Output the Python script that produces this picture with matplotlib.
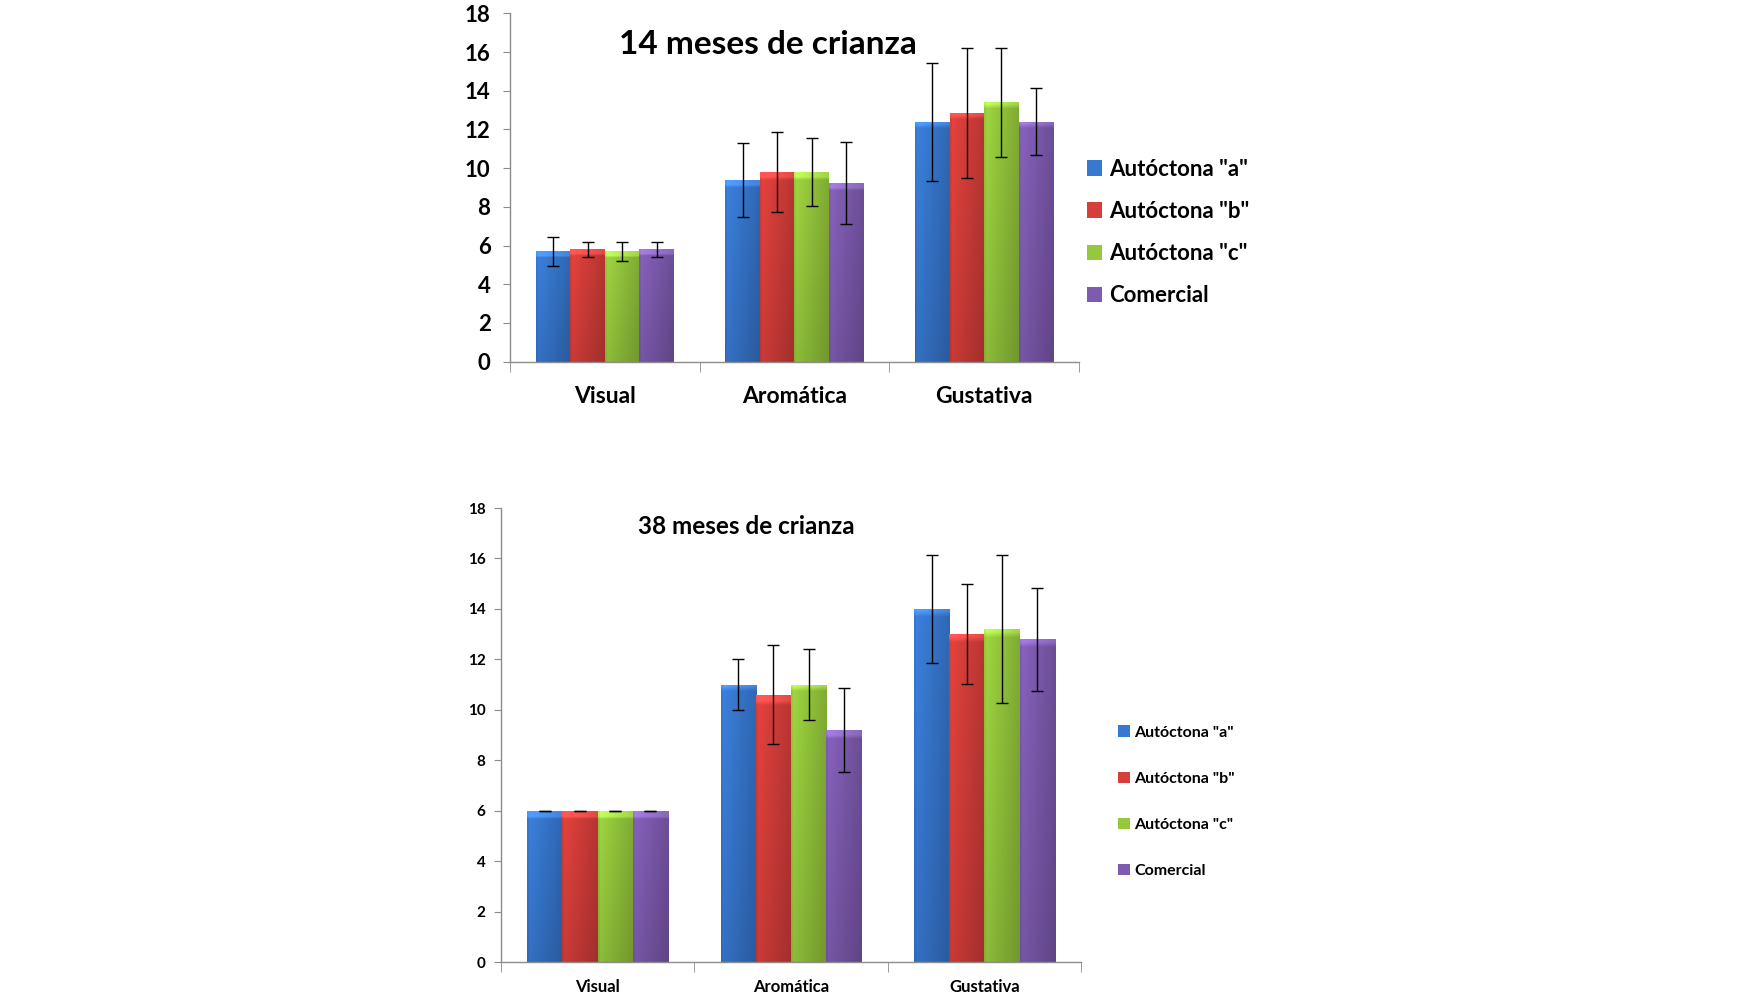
import numpy as np
import matplotlib
matplotlib.use("Agg")
import matplotlib.pyplot as plt
from matplotlib.patches import Patch
from matplotlib import colors as mcolors

categories = ["Visual", "Aromática", "Gustativa"]
series = ['Autóctona "a"', 'Autóctona "b"', 'Autóctona "c"', "Comercial"]

# 14 meses de crianza
m14_values = {
    'Autóctona "a"': [5.7, 9.4, 12.4],
    'Autóctona "b"': [5.8, 9.8, 12.85],
    'Autóctona "c"': [5.7, 9.8, 13.4],
    "Comercial":     [5.8, 9.25, 12.4],
}
m14_errors = {
    'Autóctona "a"': [0.75, 1.9, 3.05],
    'Autóctona "b"': [0.38, 2.05, 3.38],
    'Autóctona "c"': [0.5, 1.77, 2.82],
    "Comercial":     [0.38, 2.12, 1.72],
}

# 38 meses de crianza
m38_values = {
    'Autóctona "a"': [6.0, 11.0, 14.0],
    'Autóctona "b"': [6.0, 10.6, 13.0],
    'Autóctona "c"': [6.0, 11.0, 13.2],
    "Comercial":     [6.0, 9.2, 12.8],
}
m38_errors = {
    'Autóctona "a"': [0.0, 1.0, 2.13],
    'Autóctona "b"': [0.0, 1.95, 1.98],
    'Autóctona "c"': [0.0, 1.4, 2.93],
    "Comercial":     [0.0, 1.65, 2.04],
}

bar_colors = ["#3778d0", "#d63e3a", "#95c83c", "#7e5bb0"]
yticks = [0, 2, 4, 6, 8, 10, 12, 14, 16, 18]

plt.rcParams['font.family'] = ['Lato', 'DejaVu Sans']

fig = plt.figure(figsize=(17.5, 10), dpi=100)
fig.patch.set_facecolor("white")


def gradient_bar(ax, bar, color):
    x, w, h = bar.get_x(), bar.get_width(), bar.get_height()
    y0 = bar.get_y()
    base = np.array(mcolors.to_rgb(color))
    nx, ny = 40, 60
    xs = np.linspace(0, 1, nx)
    ys = np.linspace(0, 1, ny)
    fx = 1.08 - 0.22 * xs
    fx[:2] *= 0.92
    fy = 0.88 + 0.12 * ys
    fac = fy[:, None] * fx[None, :]
    img = np.clip(base[None, None, :] * fac[:, :, None], 0, 1)
    top_rows = max(1, int(ny * 0.02 / max(h / 18, 0.02)))
    img[-top_rows:, :, :] = np.clip(img[-top_rows:, :, :] * 1.15 + 0.05, 0, 1)
    im = ax.imshow(img, extent=[x, x + w, y0, y0 + h], origin="lower",
                   aspect="auto", zorder=2, interpolation="bilinear")
    im.set_clip_path(bar)
    bar.set_facecolor("none")


def draw_chart(rect, values, errors, title, title_size, tick_size,
               cat_size, title_xy, legend_anchor, legend_size, legend_spacing,
               capsize, ypad):
    ax = fig.add_axes(rect)
    n = len(series)
    width = 0.182
    x = np.arange(len(categories))
    for i, s in enumerate(series):
        offs = (i - (n - 1) / 2) * width
        bars = ax.bar(x + offs, values[s], width, color=bar_colors[i],
                      edgecolor="none", zorder=2)
        for b in bars:
            gradient_bar(ax, b, bar_colors[i])
        ax.errorbar(x + offs, values[s], yerr=errors[s], fmt="none",
                    ecolor="black", elinewidth=1.0, capsize=capsize,
                    capthick=1.0, zorder=4)
    ax.set_xlim(-0.5, 2.5)
    ax.set_ylim(0, 18)
    ax.set_yticks(yticks)
    ax.set_yticklabels([str(t) for t in yticks], fontsize=tick_size,
                       fontweight="bold")
    ax.set_xticks(x)
    ax.set_xticklabels(categories, fontsize=cat_size, fontweight="bold")
    ax.set_xticks([-0.5, 0.5, 1.5, 2.5], minor=True)
    ax.tick_params(axis="x", which="major", length=0, pad=tick_size * 1.1)
    ax.tick_params(axis="x", which="minor", length=7, color="#8c8c8c",
                   direction="out")
    ax.tick_params(axis="y", length=5, color="#8c8c8c", direction="out",
                   pad=ypad)
    for sp in ["top", "right"]:
        ax.spines[sp].set_visible(False)
    for sp in ["left", "bottom"]:
        ax.spines[sp].set_color("#8c8c8c")
        ax.spines[sp].set_linewidth(1.0)
    ax.set_facecolor("none")
    fig.text(title_xy[0], title_xy[1], title, fontsize=title_size,
             fontweight="bold", ha="center", va="center")
    handles = [Patch(facecolor=c, edgecolor="none") for c in bar_colors]
    fig.legend(handles, series, loc="upper left",
               bbox_to_anchor=legend_anchor, frameon=False,
               prop={"size": legend_size, "weight": "bold"},
               handlelength=0.7, handleheight=0.7, handletextpad=0.3,
               labelspacing=legend_spacing, borderaxespad=0)
    return ax


draw_chart([0.2914, 0.6384, 0.3252, 0.3482], m14_values, m14_errors,
           "14 meses de crianza", 24, 16, 16.5,
           (768 / 1750, 1 - 44 / 1000), (1078 / 1750, 1 - 150 / 1000),
           16, 0.95, 4, 9)

draw_chart([0.2863, 0.038, 0.3314, 0.454], m38_values, m38_errors,
           "38 meses de crianza", 17.5, 11, 12,
           (746 / 1750, 1 - 526 / 1000), (1112 / 1750, 1 - 719 / 1000),
           11.5, 2.0, 4, 6)

fig.savefig("out.png", dpi=100, facecolor="white")
